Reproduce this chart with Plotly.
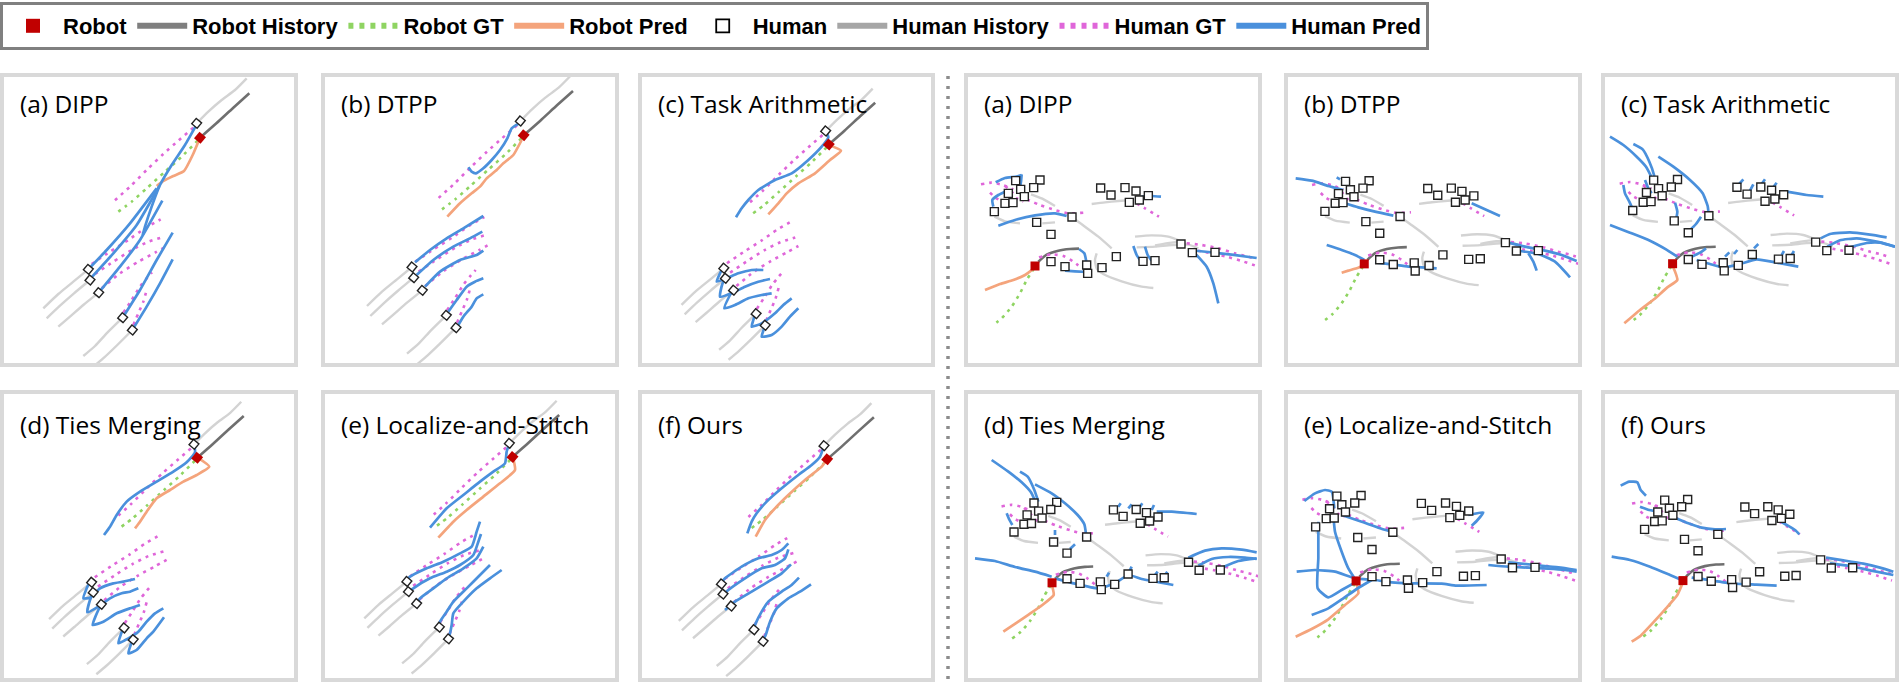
import plotly.graph_objects as go

FIG_W, FIG_H = 1900, 685

# ---------------- colours ----------------
C_ROBOT = "#c00000"
C_ROBOT_HIST = "#6f6f6f"
C_ROBOT_GT = "#8fd462"
C_ROBOT_PRED = "#f4a47c"
C_HUMAN_HIST = "#d3d3d3"
C_HUMAN_GT = "#df66d9"
C_HUMAN_PRED = "#4a90dc"
C_BORDER = "#d9d9d9"

LEGEND_NAMES = ["Robot", "Robot History", "Robot GT", "Robot Pred",
                "Human", "Human History", "Human GT", "Human Pred"]
TITLES = ["(a) DIPP", "(b) DTPP", "(c) Task Arithmetic",
          "(d) Ties Merging", "(e) Localize-and-Stitch", "(f) Ours"]

# ================= LEFT SCENE (shared, frame of left panel a) =================
L_HUMANS = [(590, 190), (265, 628), (270, 660), (296, 698), (368, 773), (397, 810)]
L_ROBOT = [(600, 233)]
L_ROBOT_HIST = [[(600, 233), (650, 189), (700, 143), (748, 100)]]
L_ROBOT_GT = [[(593, 242), (545, 290), (495, 335), (440, 385), (395, 425), (355, 455)]]
L_HUMAN_HIST = [
    [(590, 190), (625, 155), (665, 120), (705, 90), (740, 55)],
    [(265, 628), (220, 665), (175, 702), (130, 745)],
    [(270, 660), (222, 700), (180, 737), (140, 775)],
    [(296, 698), (250, 735), (210, 770), (175, 800)],
    [(368, 773), (322, 818), (285, 858), (250, 888)],
    [(397, 810), (352, 855), (312, 893), (280, 920)],
]
L_HUMAN_GT = [
    [(580, 203), (535, 242), (490, 282), (440, 330), (390, 380), (340, 425)],
    [(275, 612), (330, 575), (385, 540), (435, 505), (482, 478)],
    [(285, 642), (340, 605), (395, 570), (445, 545), (493, 530)],
    [(305, 685), (360, 640), (415, 605), (465, 578), (503, 557)],
    [(370, 758), (395, 720), (420, 680), (440, 655), (456, 637)],
    [(400, 795), (415, 760), (430, 725), (440, 690)],
]

# ---- left predictions (each in its own panel frame) ----
LA_ROBOT_PRED = [[(595, 245), (578, 285), (552, 333), (520, 348), (492, 362), (470, 378)]]
LA_HUMAN_PRED = [
    [(588, 197), (555, 255), (515, 315), (480, 375), (455, 440), (435, 500), (428, 525)],
    [(265, 628), (320, 570), (390, 490), (470, 385)],
    [(272, 655), (340, 580), (410, 495), (478, 378)],
    [(296, 698), (360, 620), (420, 540), (487, 422)],
    [(368, 773), (420, 690), (470, 600), (518, 518)],
    [(397, 810), (440, 740), (480, 670), (518, 598)],
]
LB_ROBOT_PRED = [[(605, 240), (580, 285), (550, 310), (530, 330), (500, 355), (480, 380),
                  (455, 400), (420, 430), (382, 470)]]
LB_HUMAN_PRED = [
    [(597, 190), (575, 205), (562, 235), (540, 270), (515, 300), (490, 325), (468, 340),
     (455, 335), (445, 322)],
    [(285, 607), (330, 570), (380, 535), (430, 505), (490, 468)],
    [(290, 645), (340, 600), (400, 560), (450, 535), (487, 515)],
    [(315, 680), (360, 635), (420, 600), (470, 585), (490, 572)],
    [(385, 755), (410, 720), (440, 680), (465, 665), (490, 655)],
    [(415, 795), (430, 770), (455, 740), (470, 715), (490, 703)],
]
LC_ROBOT_PRED = [[(580, 255), (618, 272), (585, 300), (540, 340), (490, 370), (455, 400),
                  (430, 430), (400, 463)]]
LC_HUMAN_PRED = [
    [(572, 213), (580, 232), (560, 260), (520, 300), (470, 340), (420, 360), (370, 390),
     (340, 420), (320, 445), (303, 472)],
    [(263, 625), (255, 640), (245, 665), (275, 655), (310, 640), (350, 630), (385, 630)],
    [(270, 657), (262, 672), (255, 710), (290, 700), (330, 680), (370, 665), (405, 657)],
    [(294, 690), (285, 705), (268, 745), (300, 735), (340, 715), (380, 705), (410, 700)],
    [(360, 763), (355, 780), (350, 800), (380, 790), (420, 760), (445, 735), (470, 715)],
    [(390, 797), (385, 812), (380, 830), (410, 825), (440, 800), (465, 770), (490, 745)],
]
LD_ROBOT_PRED = [[(592, 247), (628, 275), (590, 300), (550, 320), (510, 345), (470, 370),
                  (440, 410), (420, 440), (405, 460)]]
LD_HUMAN_PRED = [
    [(582, 208), (585, 232), (560, 262), (520, 290), (470, 320), (420, 350), (380, 380),
     (350, 420), (330, 455), (312, 480)],
    [(270, 620), (260, 640), (250, 670), (270, 668), (300, 640), (340, 625), (370, 620), (405, 612)],
    [(280, 653), (270, 675), (262, 712), (295, 695), (330, 670), (365, 655), (390, 650), (415, 640)],
    [(305, 687), (295, 705), (278, 750), (310, 740), (350, 715), (390, 700), (420, 690)],
    [(370, 760), (362, 780), (355, 805), (385, 790), (415, 770), (440, 740), (465, 715), (490, 700)],
    [(398, 793), (392, 810), (385, 835), (410, 825), (440, 790), (460, 770), (492, 727)],
]
LE_ROBOT_PRED = [[(578, 245), (585, 285), (540, 325), (490, 365), (440, 405), (400, 440), (355, 488)]]
LE_HUMAN_PRED = [
    [(568, 205), (560, 230), (555, 265), (520, 290), (480, 320), (430, 360), (380, 400), (330, 458)],
    [(258, 618), (270, 605), (320, 580), (370, 560), (420, 535), (455, 515), (470, 470), (480, 440)],
    [(266, 652), (280, 640), (330, 610), (380, 590), (420, 570), (460, 540), (475, 500), (483, 477)],
    [(290, 686), (300, 670), (340, 640), (380, 610), (430, 580), (470, 550), (490, 515)],
    [(357, 758), (360, 740), (380, 710), (400, 680), (440, 640), (480, 600), (510, 570)],
    [(384, 793), (390, 775), (395, 750), (400, 715), (430, 680), (470, 640), (510, 610), (545, 585)],
]
LF_ROBOT_PRED = [[(576, 253), (560, 275), (510, 315), (460, 360), (420, 400), (390, 435), (362, 485)]]
LF_HUMAN_PRED = [
    [(567, 212), (555, 245), (530, 270), (490, 300), (440, 340), (395, 380), (365, 415),
     (350, 440), (337, 475)],
    [(258, 625), (270, 610), (320, 575), (370, 550), (410, 540), (440, 525), (460, 505)],
    [(266, 658), (280, 645), (330, 610), (380, 580), (420, 570), (450, 550), (460, 523)],
    [(270, 705), (300, 680), (350, 650), (400, 620), (440, 595), (468, 568)],
    [(355, 764), (362, 745), (380, 710), (400, 680), (440, 650), (470, 630), (492, 608)],
    [(382, 799), (392, 780), (405, 740), (425, 700), (460, 670), (495, 650), (528, 628)],
]

# ================= RIGHT SCENE (shared, frame of right panel a) =================
R_HUMANS = [(182, 362), (255, 360), (197, 388), (236, 383), (160, 400), (208, 410), (150, 430),
            (174, 428), (118, 455), (351, 471), (245, 487), (288, 523),
            (437, 384), (468, 405), (510, 383), (543, 393), (580, 407), (523, 427), (553, 420),
            (678, 552), (712, 578), (780, 577),
            (288, 605), (330, 620), (395, 615), (398, 640), (441, 623), (484, 590), (564, 604),
            (600, 602)]
R_ROBOT = [(240, 618)]
R_ROBOT_HIST = [[(250, 605), (275, 584), (310, 572), (345, 567), (372, 566)]]
R_ROBOT_GT = [[(237, 625), (215, 660), (195, 700), (170, 740), (140, 775), (112, 797)]]
R_HUMAN_HIST = [
    [(228, 403), (262, 416), (300, 438)],
    [(118, 470), (150, 484), (195, 490)],
    [(262, 490), (300, 487)],
    [(355, 475), (390, 500), (430, 530), (470, 565)],
    [(410, 432), (450, 427), (490, 423), (525, 420)],
    [(540, 530), (590, 526), (640, 530), (680, 545)],
    [(545, 562), (600, 560), (650, 555), (700, 554), (730, 565)],
    [(600, 556), (650, 548), (690, 545)],
    [(425, 580), (420, 600), (425, 625), (445, 642), (500, 664), (560, 680), (595, 684)],
]
R_HUMAN_GT = [
    [(78, 373), (110, 368), (140, 374), (175, 388)],
    [(105, 398), (120, 412), (138, 422)],
    [(150, 378), (170, 395), (185, 415), (205, 425)],
    [(215, 418), (255, 435), (300, 450), (340, 460), (385, 458)],
    [(545, 430), (570, 445), (595, 460), (612, 470)],
    [(695, 550), (740, 555), (790, 565), (840, 580), (880, 590), (905, 598)],
    [(705, 568), (760, 578), (815, 590), (860, 603), (905, 618)],
    [(252, 592), (290, 583), (325, 588), (355, 605), (380, 625)],
]

# ---- right predictions (each in its own panel frame) ----
RA_ROBOT_PRED = [[(237, 625), (210, 645), (175, 660), (135, 672), (90, 690)]]
RA_HUMAN_PRED = [
    [(122, 367), (150, 354), (185, 350), (200, 345)],
    [(200, 343), (198, 365), (195, 385)],
    [(115, 440), (112, 420), (130, 405), (150, 395)],
    [(130, 497), (180, 480), (240, 466), (300, 460), (335, 468)],
    [(560, 410), (590, 408), (618, 410)],
    [(330, 632), (360, 634), (397, 636)],
    [(372, 567), (388, 580), (393, 600), (395, 620)],
    [(440, 632), (455, 630)],
    [(535, 558), (545, 585), (558, 605)],
    [(570, 560), (578, 585), (590, 602)],
    [(700, 570), (760, 576), (830, 584), (905, 594)],
    [(720, 580), (755, 620), (775, 670), (790, 730)],
]
RB_ROBOT_PRED = [[(268, 615), (245, 625), (220, 632), (200, 638)]]
RB_HUMAN_PRED = [
    [(62, 355), (110, 362), (160, 378), (205, 390)],
    [(185, 352), (195, 358)],
    [(205, 428), (250, 442), (300, 455), (355, 467)],
    [(155, 555), (200, 570), (240, 585), (268, 600)],
    [(300, 607), (350, 613), (400, 620), (440, 622), (485, 625)],
    [(590, 430), (630, 448), (675, 468)],
    [(690, 545), (750, 560), (810, 572), (860, 585), (905, 603)],
    [(715, 570), (790, 582), (840, 605), (885, 652)],
    [(760, 580), (775, 605), (785, 632)],
]
RC_ROBOT_PRED = [[(247, 615), (262, 660), (232, 682), (192, 718), (150, 750), (103, 790)]]
RC_HUMAN_PRED = [
    [(60, 230), (100, 255), (140, 290), (168, 320), (185, 352)],
    [(130, 252), (158, 268), (178, 305), (192, 345), (195, 372)],
    [(205, 290), (250, 320), (300, 360), (338, 400), (353, 438), (356, 466)],
    [(100, 375), (105, 400), (118, 425), (128, 448)],
    [(165, 360), (175, 385), (185, 400)],
    [(255, 428), (262, 455), (258, 480)],
    [(295, 515), (318, 492), (333, 470)],
    [(60, 495), (120, 518), (180, 542), (228, 568), (262, 590)],
    [(305, 590), (330, 578), (348, 565)],
    [(320, 600), (360, 612), (400, 622), (450, 612), (500, 598), (560, 608), (625, 620)],
    [(405, 590), (418, 577)],
    [(432, 582), (442, 570)],
    [(492, 565), (505, 552)],
    [(575, 585), (582, 573)],
    [(605, 585), (612, 573)],
    [(445, 375), (460, 358)],
    [(480, 392), (490, 373)],
    [(515, 372), (525, 358)],
    [(550, 382), (560, 368)],
    [(590, 395), (650, 405), (700, 410)],
    [(692, 535), (720, 522), (780, 517), (840, 524), (890, 532)],
    [(712, 560), (750, 541), (800, 535), (860, 545), (915, 560)],
    [(780, 562), (830, 549), (870, 548), (915, 560)],
]
RD_ROBOT_PRED = [[(290, 628), (296, 660), (262, 690), (222, 718), (182, 745), (145, 770)]]
RD_HUMAN_PRED = [
    [(110, 255), (160, 290), (200, 322), (228, 352), (242, 382)],
    [(195, 290), (218, 305), (238, 345), (250, 380)],
    [(240, 328), (290, 355), (330, 385), (368, 420), (388, 448), (393, 478)],
    [(155, 415), (162, 432), (172, 450)],
    [(300, 480), (300, 465)],
    [(345, 522), (360, 508)],
    [(60, 550), (120, 558), (180, 576), (240, 590), (290, 605)],
    [(300, 610), (360, 626), (430, 640), (480, 625), (520, 600), (560, 612), (655, 630)],
    [(490, 395), (497, 385)],
    [(520, 400), (530, 388)],
    [(555, 395), (562, 385)],
    [(590, 405), (597, 390)],
    [(605, 410), (650, 410), (725, 417)],
    [(700, 548), (750, 527), (800, 520), (860, 524), (905, 532)],
    [(730, 572), (770, 552), (820, 546), (870, 548), (905, 552)],
    [(800, 578), (850, 558), (905, 550)],
    [(455, 605), (462, 593)],
    [(520, 595), (530, 575)],
    [(600, 600), (608, 590)],
    [(630, 600), (637, 590)],
]
RE_ROBOT_PRED = [[(245, 628), (250, 655), (210, 690), (160, 733), (110, 762), (62, 785)]]
RE_HUMAN_PRED = [
    [(88, 378), (120, 355), (150, 345), (170, 350), (178, 400)],
    [(175, 420), (180, 470), (200, 530), (220, 580), (242, 615)],
    [(130, 440), (130, 550), (128, 640), (160, 667), (200, 645), (245, 620)],
    [(65, 590), (120, 585), (180, 590), (240, 610), (300, 615), (350, 622), (400, 625),
     (500, 626), (545, 632), (635, 630)],
    [(110, 720), (160, 700), (205, 670), (245, 642), (290, 615)],
    [(200, 420), (260, 440), (310, 458), (350, 470)],
    [(580, 420), (625, 412), (605, 438), (590, 452)],
    [(640, 570), (700, 575), (760, 578), (820, 581), (870, 585), (905, 590)],
    [(700, 562), (780, 570), (850, 577), (905, 585)],
]
RF_ROBOT_PRED = [[(279, 622), (262, 660), (228, 700), (192, 740), (152, 782), (125, 800)]]
RF_HUMAN_PRED = [
    [(92, 332), (118, 320), (142, 322), (152, 345), (168, 362)],
    [(150, 395), (178, 405), (212, 412)],
    [(255, 428), (295, 445), (335, 458), (375, 463), (408, 462)],
    [(65, 545), (120, 555), (180, 575), (240, 600), (275, 615)],
    [(305, 608), (350, 614), (400, 622), (450, 627), (500, 629), (560, 632)],
    [(566, 436), (590, 450), (615, 465), (628, 478)],
    [(708, 548), (760, 556), (820, 566), (870, 578), (910, 590)],
    [(720, 565), (780, 573), (840, 586), (910, 600)],
]

# ================= layout of panels (pixels) =================
LEFT_COLS = [(2, 296), (323, 617), (640, 933)]
RIGHT_COLS = [(966, 1260), (1286, 1580), (1603, 1897)]
ROWS = [(75, 365), (392, 680)]
LEFT_CROP_X = [0, 320, 635]
RIGHT_CROP_X = [955, 1275, 1590]
CROP_Y = [60, 375]
ZOOM = 3.0

# (scale, tx, ty) mapping the shared scene frame into each panel frame
LEFT_VIEW = [(1.0, 0, 0), (1.0, 11, -7), (0.94, 17.4, 34.4),
             (0.945, 24.4, 28.4), (0.946, 9.9, 25.3), (0.947, 8.3, 32.1)]
RIGHT_VIEW = [(1.0, 0, 0), (0.967, 35.7, 14), (0.98, 12.6, 5.5),
              (0.935, 66.7, 45.5), (0.994, 4.7, 3.5), (0.943, 52.5, 34)]

LEFT_PREDS = [(LA_ROBOT_PRED, LA_HUMAN_PRED), (LB_ROBOT_PRED, LB_HUMAN_PRED),
              (LC_ROBOT_PRED, LC_HUMAN_PRED), (LD_ROBOT_PRED, LD_HUMAN_PRED),
              (LE_ROBOT_PRED, LE_HUMAN_PRED), (LF_ROBOT_PRED, LF_HUMAN_PRED)]
RIGHT_PREDS = [(RA_ROBOT_PRED, RA_HUMAN_PRED), (RB_ROBOT_PRED, RB_HUMAN_PRED),
               (RC_ROBOT_PRED, RC_HUMAN_PRED), (RD_ROBOT_PRED, RD_HUMAN_PRED),
               (RE_ROBOT_PRED, RE_HUMAN_PRED), (RF_ROBOT_PRED, RF_HUMAN_PRED)]

LEFT_SCENE = dict(humans=L_HUMANS, robot=L_ROBOT, rhist=L_ROBOT_HIST, rgt=L_ROBOT_GT,
                  hhist=L_HUMAN_HIST, hgt=L_HUMAN_GT, angle=40, hsize=7, rsize=8.5)
RIGHT_SCENE = dict(humans=R_HUMANS, robot=R_ROBOT, rhist=R_ROBOT_HIST, rgt=R_ROBOT_GT,
                   hhist=R_HUMAN_HIST, hgt=R_HUMAN_GT, angle=0, hsize=8, rsize=9)


def join(polylines):
    xs, ys = [], []
    for pl in polylines:
        for a, b in pl:
            xs.append(a)
            ys.append(b)
        xs.append(None)
        ys.append(None)
    return xs, ys


DOT = "3px,5px"
fig = go.Figure()

# legend-only entries
LEG_STYLE = [
    dict(mode="markers", marker=dict(symbol="square", size=14, color=C_ROBOT)),
    dict(mode="lines", line=dict(color="#7f7f7f", width=6)),
    dict(mode="lines", line=dict(color=C_ROBOT_GT, width=6, dash="5px,6px")),
    dict(mode="lines", line=dict(color=C_ROBOT_PRED, width=6)),
    dict(mode="markers", marker=dict(symbol="square", size=13, color="white",
                                     line=dict(color="black", width=1.8))),
    dict(mode="lines", line=dict(color="#a6a6a6", width=6)),
    dict(mode="lines", line=dict(color=C_HUMAN_GT, width=6, dash="5px,6px")),
    dict(mode="lines", line=dict(color=C_HUMAN_PRED, width=6)),
]
for name, st in zip(LEGEND_NAMES, LEG_STYLE):
    fig.add_trace(go.Scatter(x=[None], y=[None], name=name, showlegend=True,
                             xaxis="x", yaxis="y", hoverinfo="skip", **st))

layout_axes = {}
shapes = []
annotations = []

panels = []
for i in range(6):
    r, c = divmod(i, 3)
    panels.append(dict(title=TITLES[i], box=(LEFT_COLS[c][0], LEFT_COLS[c][1], ROWS[r][0], ROWS[r][1]),
                       crop=(LEFT_CROP_X[c], CROP_Y[r]), view=LEFT_VIEW[i],
                       preds=LEFT_PREDS[i], scene=LEFT_SCENE))
for i in range(6):
    r, c = divmod(i, 3)
    panels.append(dict(title=TITLES[i], box=(RIGHT_COLS[c][0], RIGHT_COLS[c][1], ROWS[r][0], ROWS[r][1]),
                       crop=(RIGHT_CROP_X[c], CROP_Y[r]), view=RIGHT_VIEW[i],
                       preds=RIGHT_PREDS[i], scene=RIGHT_SCENE))


def ax_names(k):
    return ("x" if k == 1 else f"x{k}"), ("y" if k == 1 else f"y{k}")


for p, pn in enumerate(panels):
    x0, x1, y0, y1 = pn["box"]
    cx, cy = pn["crop"]
    s, tx, ty = pn["view"]
    dom_x = [x0 / FIG_W, x1 / FIG_W]
    dom_y = [1 - y1 / FIG_H, 1 - y0 / FIG_H]
    # panel frame range
    px = [(x0 - cx) * ZOOM, (x1 - cx) * ZOOM]
    py = [(y1 - cy) * ZOOM, (y0 - cy) * ZOOM]
    # scene frame range
    sx = [(v - tx) / s for v in px]
    sy = [(v - ty) / s for v in py]
    ks = [3 * p + 1, 3 * p + 2, 3 * p + 3]
    ranges = [(sx, sy), (px, py), (sx, sy)]
    for k, (rx, ry) in zip(ks, ranges):
        xn, yn = ax_names(k)
        layout_axes["xaxis" if k == 1 else f"xaxis{k}"] = dict(
            domain=dom_x, range=rx, visible=False, anchor=yn, fixedrange=True)
        layout_axes["yaxis" if k == 1 else f"yaxis{k}"] = dict(
            domain=dom_y, range=ry, visible=False, anchor=xn, fixedrange=True)

    sc = pn["scene"]
    xa, ya = ax_names(ks[0])
    for polys, color, width, dash in [
        (sc["hhist"], C_HUMAN_HIST, 2.4, None),
        (sc["rhist"], C_ROBOT_HIST, 2.6, None),
        (sc["hgt"], C_HUMAN_GT, 2.6, DOT),
        (sc["rgt"], C_ROBOT_GT, 2.6, DOT),
    ]:
        xs, ys = join(polys)
        fig.add_trace(go.Scatter(x=xs, y=ys, mode="lines", xaxis=xa, yaxis=ya,
                                 line=dict(color=color, width=width, dash=dash,
                                           shape="spline", smoothing=0.6),
                                 showlegend=False, hoverinfo="skip"))
    # predictions
    xa, ya = ax_names(ks[1])
    rpred, hpred = pn["preds"]
    for polys, color in [(rpred, C_ROBOT_PRED), (hpred, C_HUMAN_PRED)]:
        xs, ys = join(polys)
        fig.add_trace(go.Scatter(x=xs, y=ys, mode="lines", xaxis=xa, yaxis=ya,
                                 line=dict(color=color, width=2.7, shape="spline", smoothing=0.5),
                                 showlegend=False, hoverinfo="skip"))
    # agents
    xa, ya = ax_names(ks[2])
    fig.add_trace(go.Scatter(x=[h[0] for h in sc["humans"]], y=[h[1] for h in sc["humans"]],
                             mode="markers", xaxis=xa, yaxis=ya,
                             marker=dict(symbol="square", size=sc["hsize"], color="white",
                                         angle=sc["angle"], line=dict(color="#222222", width=1.4)),
                             showlegend=False, hoverinfo="skip"))
    fig.add_trace(go.Scatter(x=[h[0] for h in sc["robot"]], y=[h[1] for h in sc["robot"]],
                             mode="markers", xaxis=xa, yaxis=ya,
                             marker=dict(symbol="square", size=sc["rsize"], color=C_ROBOT,
                                         angle=sc["angle"], line=dict(width=0)),
                             showlegend=False, hoverinfo="skip"))

    shapes.append(dict(type="rect", xref="paper", yref="paper",
                       x0=dom_x[0], x1=dom_x[1], y0=dom_y[0], y1=dom_y[1],
                       line=dict(color=C_BORDER, width=4), fillcolor="rgba(0,0,0,0)", layer="above"))
    ty_off = 28 if y0 < 200 else 32
    annotations.append(dict(text=pn["title"], xref="paper", yref="paper",
                            x=(x0 + 16) / FIG_W, y=1 - (y0 + ty_off) / FIG_H,
                            xanchor="left", yanchor="middle", showarrow=False,
                            font=dict(family="Open Sans", size=24.5, color="black")))

# vertical dotted separator
shapes.append(dict(type="line", xref="paper", yref="paper",
                   x0=948 / FIG_W, x1=948 / FIG_W, y0=1 - 76 / FIG_H, y1=0,
                   line=dict(color="#8c8c8c", width=3.5, dash="3px,7px")))

fig.update_layout(
    width=FIG_W, height=FIG_H,
    margin=dict(l=0, r=0, t=0, b=0),
    paper_bgcolor="white", plot_bgcolor="rgba(0,0,0,0)",
    shapes=shapes, annotations=annotations,
    showlegend=True,
    legend=dict(orientation="h", x=0, y=1 - 2 / FIG_H, xanchor="left", yanchor="top",
                bordercolor="#808080", borderwidth=3, bgcolor="white",
                itemwidth=50, itemclick=False, itemdoubleclick=False,
                font=dict(family="Liberation Sans, Arial, sans-serif", size=22,
                          color="black", weight="bold")),
    **layout_axes,
)

fig.write_html("out.html")
